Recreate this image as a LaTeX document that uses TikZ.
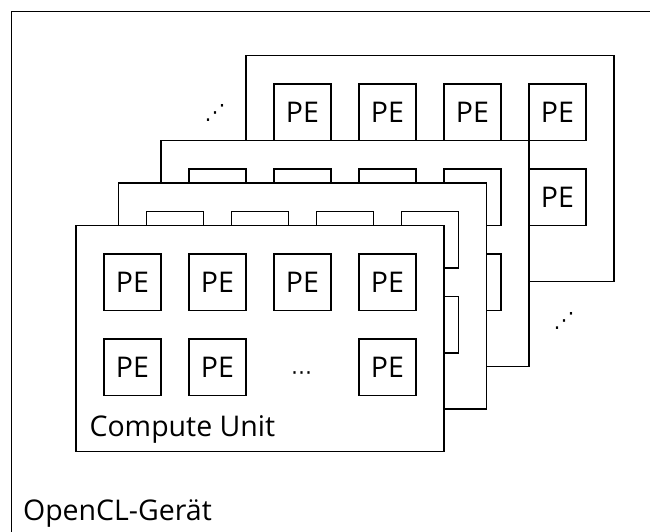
\documentclass[tikz,border=0pt]{standalone}
\usepackage{fontspec}
\setmainfont{Open Sans}
\newfontfamily\symfont{DejaVu Sans}
\begin{document}
\begin{tikzpicture}[x=1pt, y=-1pt, line width=1.5pt,
  card/.style={draw, fill=white, minimum width=368.3pt, minimum height=226pt,
    inner sep=0pt, anchor=north west},
  pe/.style={draw, fill=white, minimum width=56.7pt, minimum height=56.7pt,
    inner sep=0pt, anchor=north west, font=\fontsize{28.5}{32}\selectfont},
  lbl/.style={anchor=base west, inner sep=0pt, font=\fontsize{28.5}{32}\selectfont},
  ell/.style={inner sep=0pt, font=\symfont\fontsize{21}{24}\selectfont}]
\clip (0,0) rectangle (650,531);
\fill[white] (0,0) rectangle (650,531);

% device frame (its right and bottom edges lie beyond the view)
\draw (652,11.7) -| (11.3,533);
\node[lbl] (device) at (22.3,520.7) {OpenCL-Gerät};

% rearmost compute unit
\node[card] (cu4) at (245,54.7) {};
\foreach \i in {0,...,3}
  \node[pe] (cu4-pe\i) at (273.3+85*\i, 83) {PE};
\node[pe] (cu4-pe7) at (528.3, 168) {PE};

% more compute units in between
\node[ell] (gap1) at (215,113) {⋰};
\node[ell] (gap2) at (564,321) {⋰};

% third compute unit
\node[card] (cu3) at (160,139.7) {};
\foreach \i in {0,...,3}
  \node[pe] (cu3-pe\i) at (188.3+85*\i, 168) {};
\node[pe] (cu3-pe7) at (443.3, 253) {};

% second compute unit
\node[card] (cu2) at (117.5,182.2) {};
\foreach \i in {0,...,3}
  \node[pe] (cu2-pe\i) at (145.8+85*\i, 210.5) {};
\node[pe] (cu2-pe7) at (400.8, 295.5) {};

% front compute unit
\node[card] (cu1) at (75,224.7) {};
\foreach \i in {0,...,3}
  \node[pe] (cu1-pe\i) at (103.3+85*\i, 253) {PE};
\node[pe] (cu1-pe4) at (103.3, 338) {PE};
\node[pe] (cu1-pe5) at (188.3, 338) {PE};
\node[ell] (cu1-more) at (301.6, 375.3) {⋯};
\node[pe] (cu1-pe7) at (358.3, 338) {PE};
\node[lbl] (cu1-name) at (88.8, 436.7) {Compute Unit};
\end{tikzpicture}
\end{document}
